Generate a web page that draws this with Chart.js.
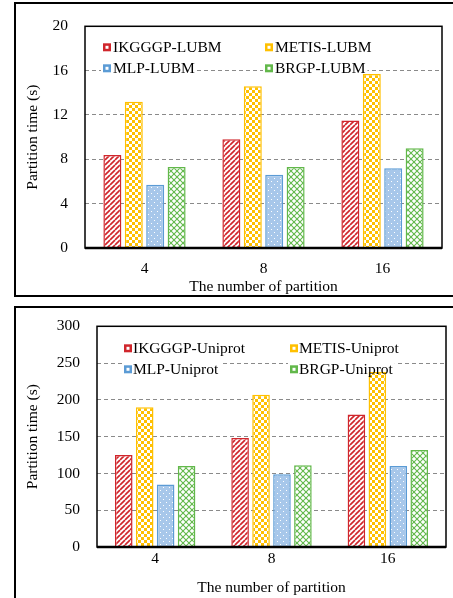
<!DOCTYPE html>
<html><head><meta charset="utf-8">
<script src="https://cdn.jsdelivr.net/npm/chart.js@4.4.0/dist/chart.umd.min.js"></script>
<style>
html,body{margin:0;padding:0;background:#fff;width:453px;height:598px;overflow:hidden;position:relative}
.w{position:absolute;left:0;width:453px}
#w1{top:0;height:300px}
#w2{top:300px;height:298px}
.frame{position:absolute;pointer-events:none;box-sizing:border-box}
#f1{left:14px;top:2px;width:460px;height:295px;border-left:2px solid #000;border-top:2px solid #000;border-bottom:2px solid #000}
#f2{left:14px;top:306px;width:460px;height:320px;border-left:2px solid #000;border-top:2px solid #000}
</style></head>
<body>
<div class="w" id="w1"><canvas id="c1"></canvas></div>
<div class="w" id="w2"><canvas id="c2"></canvas></div>
<div class="frame" id="f1"></div>
<div class="frame" id="f2"></div>
<script>
// ---- data ----
const categories = ['4', '8', '16'];
const lubmNames = ['IKGGGP-LUBM', 'METIS-LUBM', 'MLP-LUBM', 'BRGP-LUBM'];
const lubmIKGGGP = [8.4, 9.8, 11.5];
const lubmMETIS = [13.2, 14.6, 15.7];
const lubmMLP = [5.7, 6.6, 7.2];
const lubmBRGP = [7.3, 7.3, 9.0];
const uniNames = ['IKGGGP-Uniprot', 'METIS-Uniprot', 'MLP-Uniprot', 'BRGP-Uniprot'];
const uniIKGGGP = [125, 148, 180];
const uniMETIS = [190, 207, 238];
const uniMLP = [85, 99, 110];
const uniBRGP = [110, 111, 132];
const yTitle = 'Partition time (s)';
const xTitle = 'The number of partition';

const FONT = "'Liberation Serif','Times New Roman',serif";
const FS = 15.5;
Chart.defaults.font.family = FONT;
Chart.defaults.font.size = FS;
Chart.defaults.color = '#000';

const RED = '#D0262C', YEL = '#FFC000', BLUE = '#5B9BD5', BLUEF = '#A7C7EA', GREEN = '#62B84A';

function tile(size, draw) {
  const c = document.createElement('canvas');
  c.width = size; c.height = size;
  const g = c.getContext('2d');
  draw(g, size);
  return document.createElement('canvas').getContext('2d').createPattern(c, 'repeat');
}
const patRed = tile(5, (g, s) => {
  g.fillStyle = '#fff'; g.fillRect(0, 0, s, s);
  g.strokeStyle = RED; g.lineWidth = 1.7;
  for (let k = -1; k <= 1; k++) {
    g.beginPath(); g.moveTo(k * s, s); g.lineTo(k * s + s, 0); g.stroke();
  }
});
const patYel = tile(6, (g, s) => {
  g.fillStyle = '#fff'; g.fillRect(0, 0, s, s);
  g.fillStyle = YEL; g.fillRect(0, 0, 3, 3); g.fillRect(3, 3, 3, 3);
});
const patBlue = tile(6, (g, s) => {
  g.fillStyle = BLUEF; g.fillRect(0, 0, s, s);
  g.fillStyle = '#fff'; g.fillRect(1, 1, 1, 1); g.fillRect(4, 4, 1, 1);
});
const patGreen = tile(6, (g, s) => {
  g.fillStyle = '#fff'; g.fillRect(0, 0, s, s);
  g.strokeStyle = GREEN; g.lineWidth = 1.1;
  for (let k = -1; k <= 1; k++) {
    g.beginPath(); g.moveTo(k * s, s); g.lineTo(k * s + s, 0); g.stroke();
    g.beginPath(); g.moveTo(k * s, 0); g.lineTo(k * s + s, s); g.stroke();
  }
});
const fills = [patRed, patYel, patBlue, patGreen];
const borders = [RED, YEL, BLUE, GREEN];

const decorPlugin = {
  id: 'decor',
  beforeDatasetsDraw(chart, args, o) {
    const ctx = chart.ctx, a = chart.chartArea;
    ctx.save();
    ctx.font = FS + 'px ' + FONT;
    chart.data.datasets.forEach((ds, i) => {
      const x = a.left + o.cols[i % 2], y = a.top + o.rows[Math.floor(i / 2)];
      const w = o.box + o.gap + ctx.measureText(ds.label).width;
      ctx.fillStyle = '#fff';
      ctx.fillRect(x - 2, y - 7, w + 4, 14);
    });
    ctx.restore();
  },
  afterDatasetsDraw(chart, args, o) {
    const ctx = chart.ctx, a = chart.chartArea;
    ctx.save();
    ctx.strokeStyle = '#000';
    ctx.lineWidth = 1.5;
    ctx.strokeRect(a.left, a.top, a.right - a.left, a.bottom - a.top);
    ctx.lineWidth = 2.5;
    ctx.beginPath(); ctx.moveTo(a.left, a.bottom); ctx.lineTo(a.right, a.bottom); ctx.stroke();
    ctx.font = FS + 'px ' + FONT;
    ctx.textBaseline = 'middle';
    chart.data.datasets.forEach((ds, i) => {
      const x = a.left + o.cols[i % 2], y = a.top + o.rows[Math.floor(i / 2)];
      ctx.fillStyle = ds.borderColor;
      ctx.fillRect(x, y - o.box / 2, o.box, o.box);
      ctx.fillStyle = '#fff';
      ctx.fillRect(x + 2.5, y - o.box / 2 + 2.5, o.box - 5, o.box - 5);
      ctx.fillStyle = '#000';
      ctx.fillText(ds.label, x + o.box + o.gap, y + 1);
    });
    ctx.restore();
  }
};

function makeChart(id, names, series, yMax, yStep, L) {
  return new Chart(document.getElementById(id), {
    type: 'bar',
    data: {
      labels: categories,
      datasets: series.map((vals, i) => ({
        label: names[i], data: vals,
        backgroundColor: fills[i], borderColor: borders[i], borderWidth: 1.5,
        categoryPercentage: 0.72, barPercentage: 0.84
      }))
    },
    options: {
      responsive: true, maintainAspectRatio: false, animation: false,
      layout: { padding: { top: L.top, right: L.right, left: 0, bottom: 0 } },
      plugins: { legend: { display: false }, tooltip: { enabled: false }, decor: L.legend },
      scales: {
        x: {
          grid: { display: false, drawTicks: false },
          border: { display: false },
          ticks: { padding: L.xTickPad, font: { size: FS } },
          title: { display: true, text: xTitle, font: { size: FS }, padding: { top: 0, bottom: L.xTitlePad } },
          afterFit: s => { s.height = L.xHeight; }
        },
        y: {
          min: 0, max: yMax,
          grid: {
            drawTicks: false, lineWidth: 1,
            color: c => (c.tick && (c.tick.value === 0 || c.tick.value === yMax)) ? 'rgba(0,0,0,0)' : '#8a8a8a'
          },
          border: { display: false, dash: [4, 3] },
          ticks: { stepSize: yStep, padding: 17, font: { size: FS } },
          title: { display: true, text: yTitle, font: { size: FS }, padding: { top: 24, bottom: 0 } },
          afterFit: s => { s.width = L.yWidth; }
        }
      }
    },
    plugins: [decorPlugin]
  });
}

makeChart('c1', lubmNames, [lubmIKGGGP, lubmMETIS, lubmMLP, lubmBRGP], 20, 4, {
  top: 24, right: 11, yWidth: 85, xHeight: 52, xTickPad: 12, xTitlePad: 4,
  legend: { cols: [18, 180], rows: [21, 42], box: 8, gap: 2 }
});
makeChart('c2', uniNames, [uniIKGGGP, uniMETIS, uniMLP, uniBRGP], 300, 50, {
  top: 24, right: 7, yWidth: 97, xHeight: 51, xTickPad: 3, xTitlePad: 1,
  legend: { cols: [27, 193], rows: [22, 43], box: 8, gap: 1 }
});
</script>
</body></html>
